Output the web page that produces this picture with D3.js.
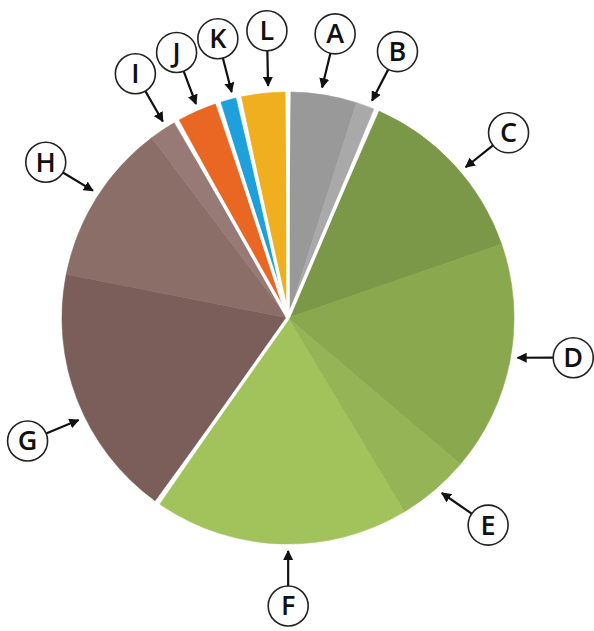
<!DOCTYPE html>
<html>
<head>
<meta charset="utf-8">
<script src="https://cdn.jsdelivr.net/npm/d3@7"></script>
<style>
  html, body { margin: 0; padding: 0; background: #fff; }
  svg { display: block; }
</style>
</head>
<body>
<svg id="chart" width="594" height="631"></svg>
<script>
// ---- data ----
const categories = ["A", "B", "C", "D", "E", "F", "G", "H", "I", "J", "K", "L"];
const values     = [4.9, 1.5, 13.3, 16.5, 5.2, 18.4, 18.3, 11.6, 2.1, 3.2, 1.5, 3.5];
const groups     = ["gray", "gray", "green", "green", "green", "green", "brown", "brown", "brown", "orange", "blue", "yellow"];
const colors     = ["#999999", "#a9a9a9", "#7a9847", "#8aa84e", "#94b455", "#a2c25c",
                    "#7b5d5a", "#8c6e69", "#977a75", "#e96623", "#1ea0dc", "#f0af1e"];
// angular nudges (degrees) for callout tips and label circles, layout only
const tipNudge    = [-0.4, 0.8, 2.7, -0.8, -1.0, -2.2, -4.2, 1.1, 0.8, 0.5, 1.3, 1.4];
const circleNudge = [0.6, 2.0, 3.0, -2.7, -3.7, -2.2, -3.5, 0.7, 1.3, 1.0, 1.2, 2.1];

// ---- layout ----
const cx = 288, cy = 318, R = 226;
const halfGap = 0.75 * Math.PI / 180;
const deg = Math.PI / 180;
const svg = d3.select("#chart");
const g = svg.append("g").attr("transform", `translate(${cx},${cy})`);

const data = categories.map((c, i) => ({
  cat: c, value: values[i], group: groups[i], color: colors[i],
  tipNudge: tipNudge[i], circleNudge: circleNudge[i]
}));
const arcs = d3.pie().sort(null).value(d => d.value)(data);
const n = arcs.length;

arcs.forEach((a, i) => {
  const prevGroup = data[(i - 1 + n) % n].group;
  const nextGroup = data[(i + 1) % n].group;
  a.s = a.startAngle + (prevGroup !== a.data.group ? halfGap : 0);
  a.e = a.endAngle - (nextGroup !== a.data.group ? halfGap : 0);
});

const arc = d3.arc().innerRadius(0).outerRadius(R);

g.selectAll("path.slice")
  .data(arcs)
  .join("path")
  .attr("class", "slice")
  .attr("d", d => arc({ startAngle: d.s, endAngle: d.e }))
  .attr("fill", d => d.data.color)
  .attr("stroke", d => d.data.color)
  .attr("stroke-width", 0.6);

// white separators at group boundaries
const boundaries = arcs.filter((a, i) => data[(i + 1) % n].group !== a.data.group).map(a => a.endAngle);
g.selectAll("line.sep")
  .data(boundaries)
  .join("line")
  .attr("class", "sep")
  .attr("x1", 0).attr("y1", 0)
  .attr("x2", a => Math.sin(a) * (R + 10))
  .attr("y2", a => -Math.cos(a) * (R + 10))
  .attr("stroke", "#fff")
  .attr("stroke-width", 3.5);

// ---- callouts ----
const defs = svg.append("defs");
defs.append("marker")
  .attr("id", "arrow")
  .attr("viewBox", "0 0 10 10")
  .attr("refX", 9).attr("refY", 5)
  .attr("markerWidth", 4.6).attr("markerHeight", 4.6)
  .attr("markerUnits", "strokeWidth")
  .attr("orient", "auto")
  .append("path")
  .attr("d", "M0,0 L10,5 L0,10 Z")
  .attr("fill", "#111");

const circleR = 20;
const polar = (ang, d) => [Math.sin(ang) * d, -Math.cos(ang) * d];

const callouts = g.selectAll("g.callout")
  .data(arcs)
  .join("g")
  .attr("class", "callout");

callouts.each(function (d) {
  const mid = (d.startAngle + d.endAngle) / 2;
  const tip = polar(mid + d.data.tipNudge * deg, R + 7);
  const center = polar(mid + d.data.circleNudge * deg, R + 62);
  const dx = tip[0] - center[0], dy = tip[1] - center[1];
  const len = Math.hypot(dx, dy);
  const start = [center[0] + dx / len * circleR, center[1] + dy / len * circleR];
  const sel = d3.select(this);
  sel.append("line")
    .attr("x1", start[0]).attr("y1", start[1])
    .attr("x2", tip[0]).attr("y2", tip[1])
    .attr("stroke", "#111")
    .attr("stroke-width", 2.2)
    .attr("marker-end", "url(#arrow)");
  sel.append("circle")
    .attr("cx", center[0]).attr("cy", center[1])
    .attr("r", circleR)
    .attr("fill", "#fff")
    .attr("stroke", "#222")
    .attr("stroke-width", 1.6);
  sel.append("text")
    .attr("x", center[0]).attr("y", center[1] + 9.5)
    .attr("text-anchor", "middle")
    .attr("font-family", "'Open Sans', 'Noto Sans', sans-serif")
    .attr("font-weight", 600)
    .attr("font-size", 27)
    .attr("fill", "#111")
    .text(d.data.cat);
});
</script>
</body>
</html>
